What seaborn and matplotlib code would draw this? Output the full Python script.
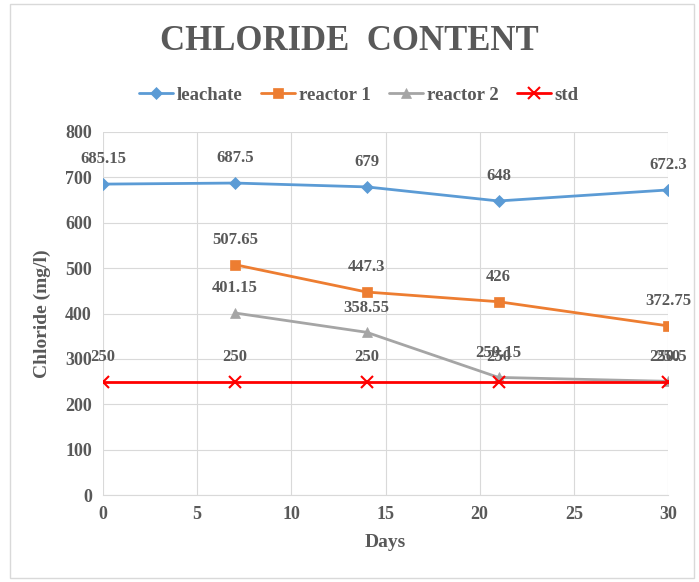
import pandas as pd
import matplotlib.pyplot as plt
import seaborn as sns

# Chart data
days = [0, 7, 14, 21, 30]
leachate = [685.15, 687.5, 679, 648, 672.3]
reactor1_days = [7, 14, 21, 30]
reactor1 = [507.65, 447.3, 426, 372.75]
reactor2_days = [7, 14, 21, 30]
reactor2 = [401.15, 358.55, 259.15, 250.5]
std = [250, 250, 250, 250, 250]

series = [
    ('leachate', days, leachate, '#5B9BD5', 'D', 6),
    ('reactor 1', reactor1_days, reactor1, '#ED7D31', 's', 7),
    ('reactor 2', reactor2_days, reactor2, '#A5A5A5', '^', 7),
    ('std', days, std, '#FF0000', 'x', 8),
]

sns.set_style('white')
plt.rcParams['font.family'] = ['Liberation Serif', 'DejaVu Serif']
text_color = '#595959'

fig = plt.figure(figsize=(6.99, 5.82), dpi=100)
ax = fig.add_axes([103 / 699, 87 / 582, 565 / 699, 363 / 582])

for name, x, y, color, marker, ms in series:
    df = pd.DataFrame({'Days': x, 'Chloride': y})
    sns.lineplot(data=df, x='Days', y='Chloride', ax=ax, color=color, marker=marker,
                 markersize=ms, linewidth=2, label=name, markeredgecolor=color,
                 markeredgewidth=1.5 if marker == 'x' else 0.5)
    for xi, yi in zip(x, y):
        ax.annotate(f'{yi:g}', (xi, yi), xytext=(0, 12), textcoords='offset points',
                    ha='center', va='bottom', fontsize=12, fontweight='bold', color=text_color)

ax.set_xlim(0, 30)
ax.set_ylim(0, 800)
ax.set_xticks(range(0, 31, 5))
ax.set_yticks(range(0, 801, 100))
ax.grid(True, color='#D9D9D9', linewidth=0.8)
for s in ['top', 'right', 'left']:
    ax.spines[s].set_visible(False)
ax.spines['bottom'].set_color('#D9D9D9')
ax.tick_params(axis='both', length=0, labelsize=13, labelcolor=text_color, pad=8)
for lab in ax.get_xticklabels() + ax.get_yticklabels():
    lab.set_fontweight('bold')

ax.set_xlabel('Days', fontsize=14, fontweight='bold', color=text_color, labelpad=8)
ax.set_ylabel('Chloride (mg/l)', fontsize=14, fontweight='bold', color=text_color, labelpad=10)

fig.text(0.5, 1 - 42 / 582, 'CHLORIDE  CONTENT', ha='center', va='center',
         fontsize=25, fontweight='bold', color=text_color)

ax.legend(loc='center', bbox_to_anchor=(359 / 699, 1 - 95 / 582), ncol=4, frameon=False,
          prop={'weight': 'bold', 'size': 13.5}, handlelength=1.8,
          columnspacing=1.0, handletextpad=0.2, labelcolor=text_color,
          bbox_transform=fig.transFigure)

# outer chart border
fig.add_artist(plt.Rectangle((10 / 699, 4 / 582), 684 / 699, 574 / 582, fill=False,
                             edgecolor='#D9D9D9', linewidth=1, transform=fig.transFigure))

fig.savefig('out.png', dpi=100)
